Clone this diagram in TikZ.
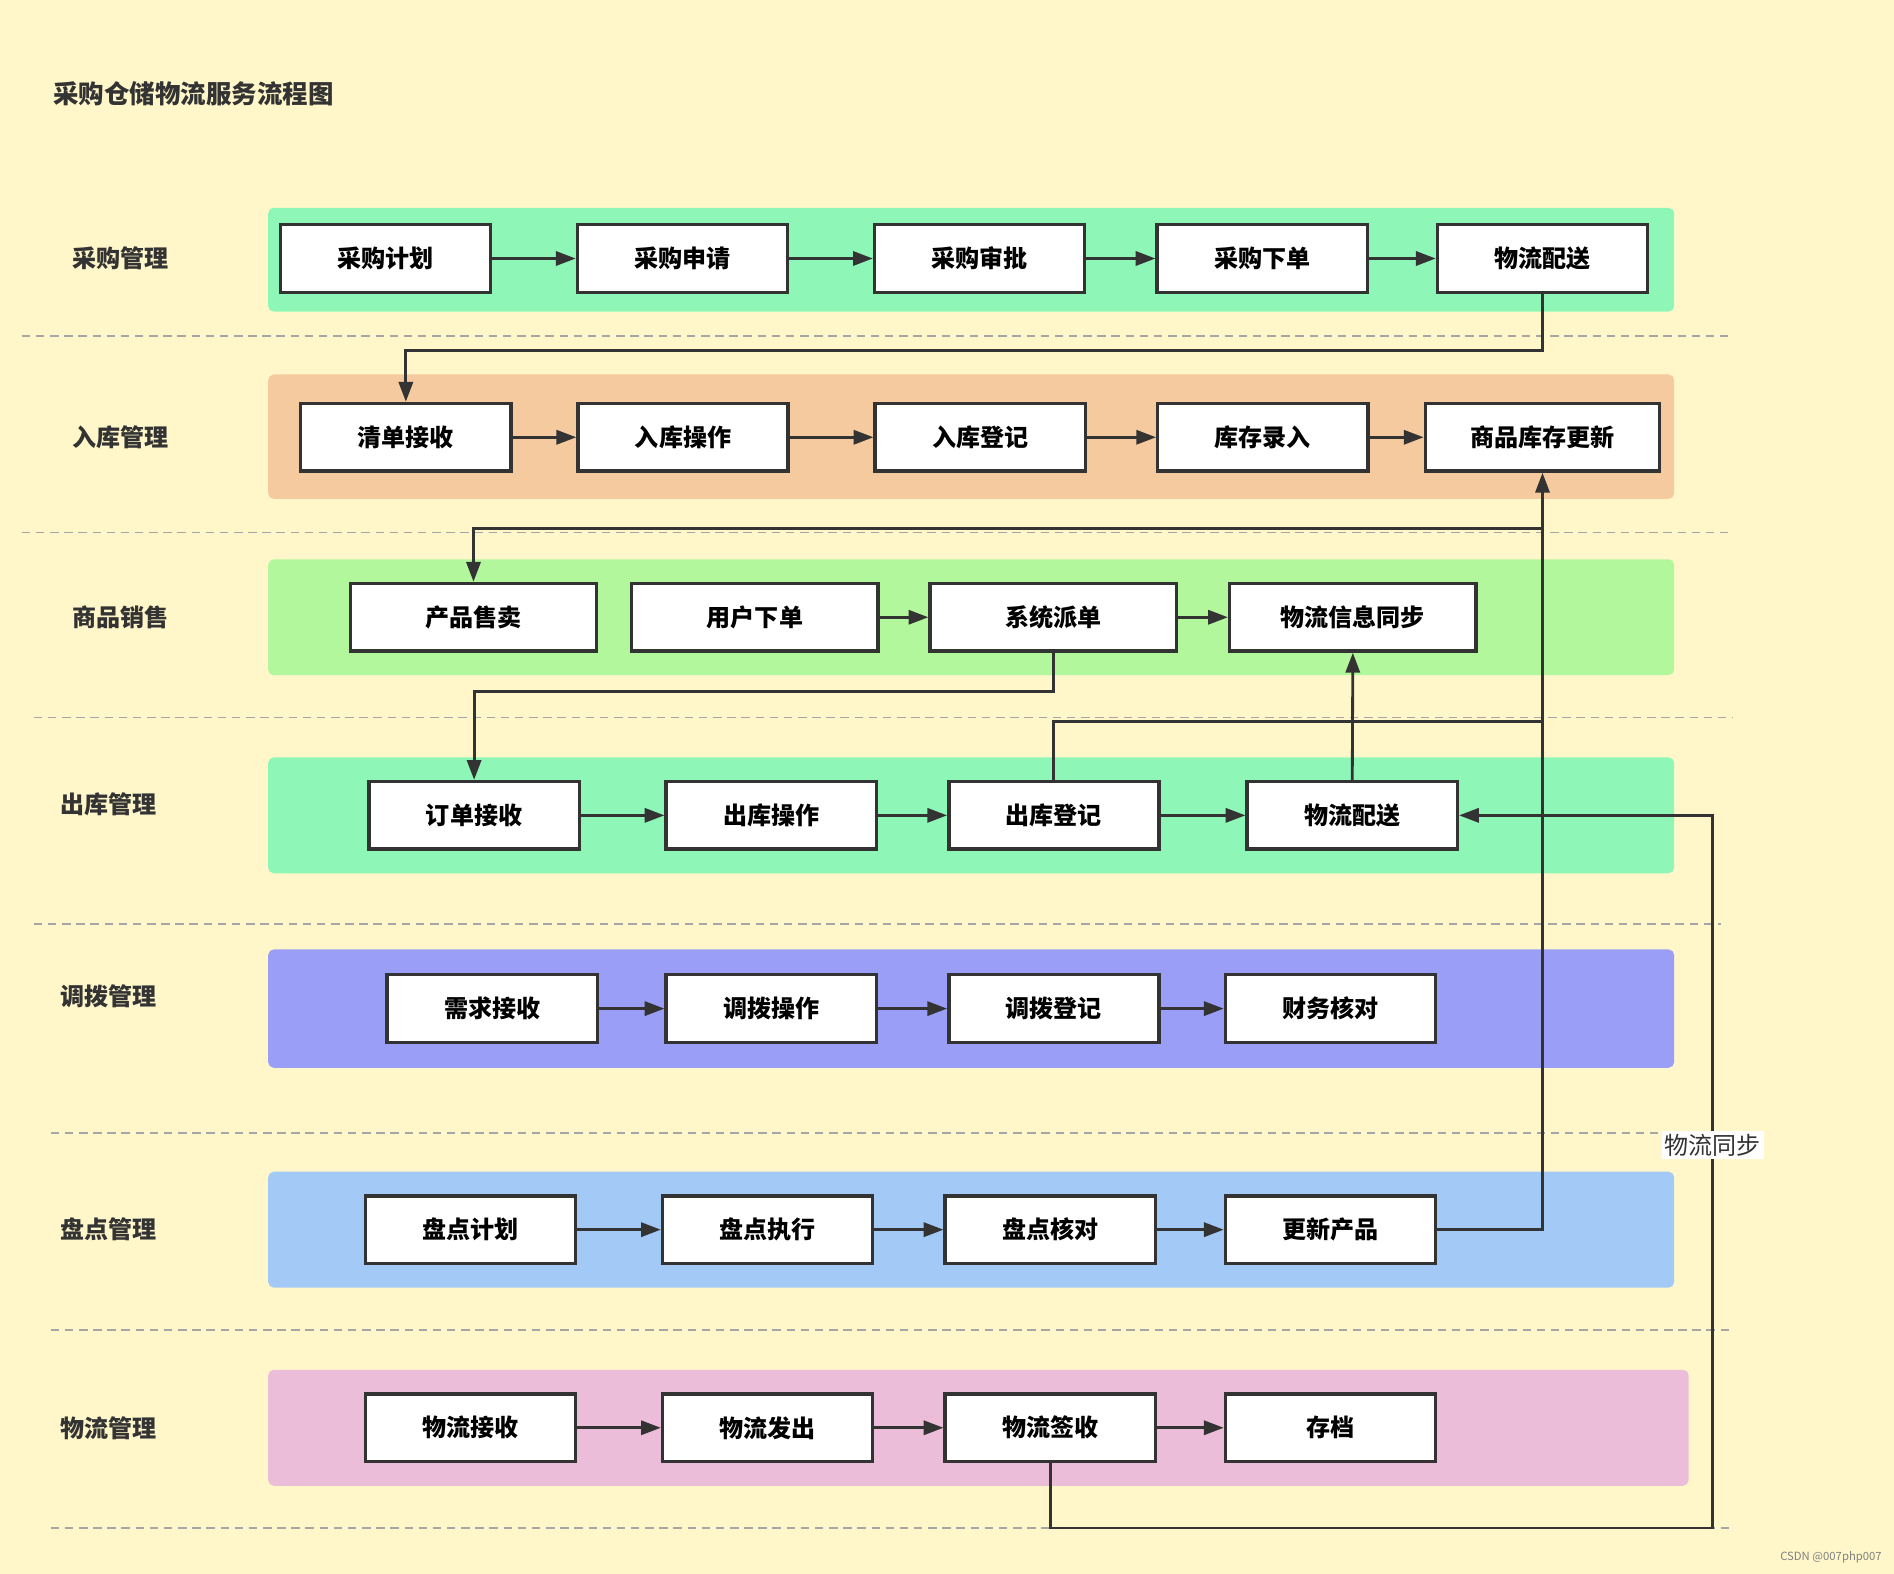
\documentclass[tikz,border=0pt]{standalone}
\usepackage{fontspec}
\setmainfont{Noto Sans CJK SC}
\usetikzlibrary{arrows.meta}
\definecolor{bg}{HTML}{FFF7C9}
\definecolor{ln}{HTML}{333333}
\definecolor{cA}{HTML}{8EF7B8}
\definecolor{cB}{HTML}{F5CA9E}
\definecolor{cC}{HTML}{B2F79C}
\definecolor{cD}{HTML}{9B9EF7}
\definecolor{cE}{HTML}{A3CAF7}
\definecolor{cF}{HTML}{EBBDD8}
\begin{document}
\begin{tikzpicture}[x=0.03cm,y=-0.03cm,
  box/.style={draw=ln,line width=2.4pt,fill=white,minimum height=1.68cm,minimum width=5.22cm,inner sep=0,font=\fontsize{17}{17}\selectfont\bfseries},
  wide/.style={minimum width=6.12cm},
  lab/.style={font=\fontsize{17}{17}\selectfont\bfseries,text=ln},
  band/.style={rounded corners=4pt},
  lanedash/.style={draw=gray!70,line width=1pt,dash pattern=on 6pt off 4pt},
  arr/.style={draw=ln,line width=2pt,-{Triangle[length=14pt,width=10pt]}},
  con/.style={draw=ln,line width=2pt}]
\useasboundingbox (0,0) rectangle (1568,1303);
\fill[bg] (0,0) rectangle (1568,1303);
\node[anchor=west,font=\fontsize{18}{18}\selectfont\bfseries,text=ln] (title) at (40,78) {采购仓储物流服务流程图};
% bands
\fill[cA,band] (222,172) rectangle (1386,258);
\fill[cB,band] (222,310) rectangle (1386,413);
\fill[cC,band] (222,463) rectangle (1386,559);
\fill[cA,band] (222,627) rectangle (1386,723);
\fill[cD,band] (222,786) rectangle (1386,884);
\fill[cE,band] (222,970) rectangle (1386,1066);
\fill[cF,band] (222,1134) rectangle (1398,1230);
% dashes
\draw[lanedash] (18,278)--(1435,278);
\draw[lanedash] (18,441)--(1435,441);
\draw[lanedash] (28,594)--(1435,594);
\draw[lanedash] (28,765)--(1425,765);
\draw[lanedash] (42,938)--(1435,938);
\draw[lanedash] (42,1101)--(1435,1101);
\draw[lanedash] (42,1265)--(1435,1265);
% lane labels
\node[lab] (l1) at (100,214) {采购管理};
\node[lab] (l2) at (100,362) {入库管理};
\node[lab] (l3) at (100,511) {商品销售};
\node[lab] (l4) at (90,666) {出库管理};
\node[lab] (l5) at (90,825) {调拨管理};
\node[lab] (l6) at (90,1018) {盘点管理};
\node[lab] (l7) at (90,1182) {物流管理};
% row1
\node[box] (a1) at (319,214) {采购计划};
\node[box] (a2) at (565,214) {采购申请};
\node[box] (a3) at (811,214) {采购审批};
\node[box] (a4) at (1045,214) {采购下单};
\node[box] (a5) at (1277,214) {物流配送};
% row2
\node[box] (b1) at (336,362) {清单接收};
\node[box] (b2) at (565.5,362) {入库操作};
\node[box] (b3) at (811.5,362) {入库登记};
\node[box] (b4) at (1045.5,362) {库存录入};
\node[box,minimum width=5.82cm] (b5) at (1277,362) {商品库存更新};
% row3
\node[box,wide] (c1) at (392,511) {产品售卖};
\node[box,wide] (c2) at (625,511) {用户下单};
\node[box,wide] (c3) at (872,511) {系统派单};
\node[box,wide] (c4) at (1120,511) {物流信息同步};
% row4
\node[box] (d1) at (392.5,675) {订单接收};
\node[box] (d2) at (638.5,675) {出库操作};
\node[box] (d3) at (872.5,675) {出库登记};
\node[box] (d4) at (1119.5,675) {物流配送};
% row5
\node[box] (e1) at (407.5,835) {需求接收};
\node[box] (e2) at (638.5,835) {调拨操作};
\node[box] (e3) at (872.5,835) {调拨登记};
\node[box] (e4) at (1101.5,835) {财务核对};
% row6
\node[box] (f1) at (389.5,1018) {盘点计划};
\node[box] (f2) at (635.5,1018) {盘点执行};
\node[box] (f3) at (869.5,1018) {盘点核对};
\node[box] (f4) at (1101.5,1018) {更新产品};
% row7
\node[box] (g1) at (389.5,1182) {物流接收};
\node[box] (g2) at (635.5,1182) {物流发出};
\node[box] (g3) at (869.5,1182) {物流签收};
\node[box] (g4) at (1101.5,1182) {存档};
% chains
\foreach \p/\q in {a1/a2,a2/a3,a3/a4,a4/a5,b1/b2,b2/b3,b3/b4,b4/b5,c2/c3,c3/c4,d1/d2,d2/d3,d3/d4,e1/e2,e2/e3,e3/e4,f1/f2,f2/f3,f3/f4,g1/g2,g2/g3,g3/g4}
  \draw[arr] (\p.east) -- (\q.west);
% cross connectors
\draw[arr] (a5.south) -- ++(0,47) -| (b1.north);
\draw[arr] (f4.east) -| (b5.south);
\draw[arr] (b5.south) ++(0,46) coordinate (j1) -| (c1.north);
\draw[arr] (c3.south) -- ++(0,32) -| (d1.north);
\draw[con] (d3.north) |- (1277,597) coordinate (j2);
\draw[arr] (d4.north) -- (c4.south);
\coordinate (r1) at (1418,1265);
\draw[arr] (g3.south) |- (r1) -- (1418,675) -- (d4.east);
\node[fill=white,inner sep=2pt,font=\fontsize{17}{17}\selectfont,text=ln] (sync) at (1418,948) {物流同步};
\node[anchor=east,font=\fontsize{8}{8}\selectfont,text=gray] (wm) at (1562,1289) {CSDN @007php007};
\end{tikzpicture}
\end{document}
